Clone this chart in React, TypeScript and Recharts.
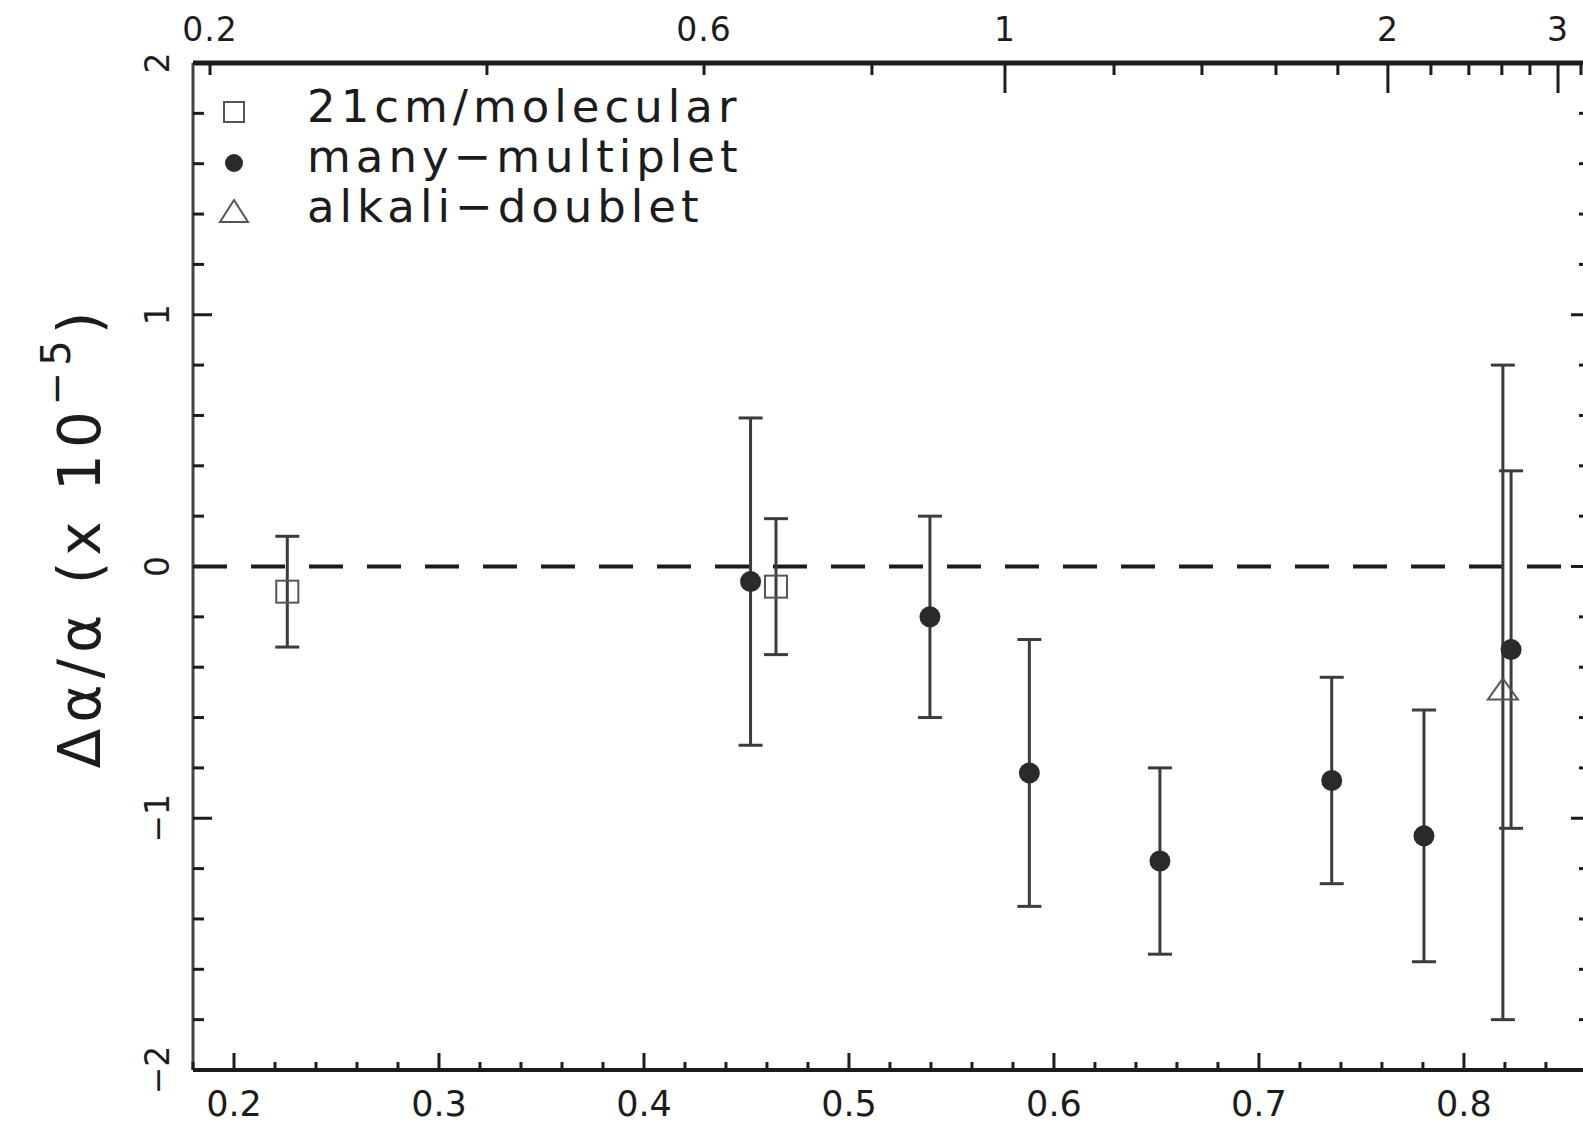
import { ScatterChart, Scatter, XAxis, YAxis, ErrorBar, ReferenceLine } from 'recharts';

const FONT = '"DejaVu Sans", Verdana, sans-serif';
const INK = '#1c1c1c';
const BAR = '#3c3c3c';

const X_MIN = 0.18;
const X_MAX = 0.8615;

// lookback-time fraction (bottom axis) and Δα/α in units of 1e-5
const molecularT = [0.226, 0.4644];
const molecularDa = [-0.1, -0.08];
const molecularErr = [0.22, 0.27];

const multipletT = [0.452, 0.5395, 0.588, 0.6517, 0.7355, 0.7805, 0.823];
const multipletDa = [-0.06, -0.2, -0.82, -1.17, -0.85, -1.07, -0.33];
const multipletErr = [0.65, 0.4, 0.53, 0.37, 0.41, 0.5, 0.71];

const doubletT = [0.819];
const doubletDa = [-0.5];
const doubletErr = [1.3];

const bottomLabels = [0.2, 0.3, 0.4, 0.5, 0.6, 0.7, 0.8];
const yLabels = [-2, -1, 0, 1, 2];

// redshift ticks of the top axis, placed at their lookback fraction
const zValues = [0.2, 0.4, 0.6, 0.8, 1, 1.2, 1.4, 1.6, 1.8, 2, 2.2, 2.4, 2.6, 2.8, 3, 3.2];
const zLookback = [
  0.1883, 0.3234, 0.4293, 0.5112, 0.5761, 0.6293, 0.6722, 0.7083,
  0.7385, 0.7629, 0.7839, 0.8024, 0.8185, 0.8322, 0.8459, 0.8571,
];
const zLabelled = ['0.2', '0.6', '1', '2', '3'];
const zMajor = [1, 2, 3];

const legendLabels = ['21cm/molecular', 'many−multiplet', 'alkali−doublet'];

const toPoints = (xs: number[], ys: number[], es: number[]) =>
  xs.map((x, i) => ({ x, y: ys[i], err: es[i] }));

const molecular = toPoints(molecularT, molecularDa, molecularErr);
const multiplet = toPoints(multipletT, multipletDa, multipletErr);
const doublet = toPoints(doubletT, doubletDa, doubletErr);
// anchors the redshift axis so it gets a scale of its own
const redshiftAnchor = zLookback.map((x) => ({ x, y: 0 }));

const bottomTicks = Array.from({ length: 35 }, (_, i) => +(0.18 + i * 0.02).toFixed(2));
const yTicks = Array.from({ length: 21 }, (_, i) => +(-2 + i * 0.2).toFixed(1));

const near = (a: number, b: number) => Math.abs(a - b) < 1e-6;

function BottomTick(props: any) {
  const { x, y, payload } = props;
  const v = payload.value as number;
  const major = bottomLabels.some((l) => near(l, v));
  return (
    <g>
      <line x1={x} y1={y} x2={x} y2={y - (major ? 17 : 8)} stroke={INK} strokeWidth={3} />
      {major && (
        <text x={x} y={y + 46} textAnchor="middle" fontSize={35} fontFamily={FONT} fill={INK}>
          {v.toFixed(1)}
        </text>
      )}
    </g>
  );
}

function TopTick(props: any) {
  const { x, y, payload } = props;
  const i = zLookback.findIndex((p) => Math.abs(p - payload.value) < 1e-4);
  const z = zValues[i];
  const label = zLabelled.find((l) => near(parseFloat(l), z));
  const major = zMajor.includes(z);
  return (
    <g>
      <line x1={x} y1={y} x2={x} y2={y + (major ? 30 : 12)} stroke={INK} strokeWidth={3} />
      {label && (
        <text x={x} y={y - 22} textAnchor="middle" fontSize={33} letterSpacing={1} fontFamily={FONT} fill={INK}>
          {label}
        </text>
      )}
    </g>
  );
}

function LeftTick(props: any) {
  const { x, y, payload } = props;
  const v = payload.value as number;
  const major = yLabels.some((l) => near(l, v));
  const text = v < 0 ? `−${Math.abs(v)}` : `${v}`;
  return (
    <g>
      <line x1={x} y1={y} x2={x + (major ? 19 : 11)} y2={y} stroke={INK} strokeWidth={3} />
      {major && (
        <text
          transform={`translate(${x - 36},${y}) rotate(-90)`}
          textAnchor="middle"
          dy="0.36em"
          fontSize={33}
          fontFamily={FONT}
          fill={INK}
        >
          {text}
        </text>
      )}
    </g>
  );
}

function RightTick(props: any) {
  const { x, y, payload } = props;
  const major = yLabels.some((l) => near(l, payload.value));
  return <line x1={x} y1={y} x2={x - (major ? 19 : 11)} y2={y} stroke={INK} strokeWidth={3} />;
}

const SquareMark = (p: any) => (
  <rect x={p.cx - 11} y={p.cy - 11} width={22} height={22} fill="none" stroke="#555" strokeWidth={2} />
);
const DotMark = (p: any) => <circle cx={p.cx} cy={p.cy} r={10.5} fill="#2a2a2a" />;
const TriangleMark = (p: any) => (
  <polygon
    points={`${p.cx},${p.cy - 14} ${p.cx - 15},${p.cy + 7} ${p.cx + 15},${p.cy + 7}`}
    fill="none"
    stroke="#555"
    strokeWidth={2}
  />
);
const NoMark = () => <g />;

function Overlay() {
  const rows = [122, 172, 222];
  return (
    <svg
      width={1583}
      height={1126}
      style={{ position: 'absolute', left: 0, top: 0, pointerEvents: 'none' }}
    >
      <rect x={224} y={102} width={20} height={20} fill="none" stroke="#555" strokeWidth={2} />
      <circle cx={234} cy={163} r={9} fill="#2a2a2a" />
      <polygon points="234,200 220,222 248,222" fill="none" stroke="#555" strokeWidth={2} />
      {legendLabels.map((label, i) => (
        <text key={label} x={307} y={rows[i]} fontSize={45} letterSpacing={5} fontFamily={FONT} fill={INK}>
          {label}
        </text>
      ))}
      <text
        transform="translate(100,537) rotate(-90)"
        textAnchor="middle"
        fontSize={58}
        letterSpacing={6}
        fontFamily={FONT}
        fill={INK}
      >
        Δα/α (x 10
        <tspan dy={-30} fontSize={40}>−5</tspan>
        <tspan dy={30}>)</tspan>
      </text>
    </svg>
  );
}

export default function App() {
  return (
    <div
      style={{
        position: 'fixed',
        left: 0,
        top: 0,
        width: 1583,
        height: 1126,
        overflow: 'hidden',
        background: '#fff',
      }}
    >
      <ScatterChart width={1600} height={1126} margin={{ top: 23, right: 5, bottom: 16, left: 133 }}>
        <XAxis
          dataKey="x"
          type="number"
          domain={[X_MIN, X_MAX]}
          ticks={bottomTicks}
          interval={0}
          height={40}
          tickLine={false}
          tickSize={0}
          tickMargin={0}
          tick={BottomTick}
          axisLine={{ stroke: INK, strokeWidth: 4 }}
          allowDataOverflow
        />
        <XAxis
          xAxisId="top"
          dataKey="x"
          orientation="top"
          type="number"
          domain={[X_MIN, X_MAX]}
          ticks={zLookback}
          interval={0}
          height={40}
          tickLine={false}
          tickSize={0}
          tickMargin={0}
          tick={TopTick}
          axisLine={{ stroke: INK, strokeWidth: 5 }}
          allowDataOverflow
        />
        <YAxis
          dataKey="y"
          type="number"
          domain={[-2, 2]}
          ticks={yTicks}
          interval={0}
          width={60}
          tickLine={false}
          tickSize={0}
          tickMargin={0}
          tick={LeftTick}
          axisLine={{ stroke: '#444', strokeWidth: 3 }}
          allowDataOverflow
        />
        <YAxis
          yAxisId="right"
          orientation="right"
          type="number"
          domain={[-2, 2]}
          ticks={yTicks}
          interval={0}
          width={5}
          tickLine={false}
          tickSize={0}
          tickMargin={0}
          tick={RightTick}
          axisLine={{ stroke: '#444', strokeWidth: 3 }}
          allowDataOverflow
        />
        <ReferenceLine y={0} stroke={INK} strokeWidth={4} strokeDasharray="34 24" />
        <Scatter
          xAxisId="top"
          data={redshiftAnchor}
          shape={NoMark}
          legendType="none"
          isAnimationActive={false}
        />
        <Scatter name="21cm/molecular" data={molecular} shape={SquareMark} isAnimationActive={false}>
          <ErrorBar dataKey="err" direction="y" width={12} stroke={BAR} strokeWidth={3} isAnimationActive={false} />
        </Scatter>
        <Scatter name="alkali-doublet" data={doublet} shape={TriangleMark} isAnimationActive={false}>
          <ErrorBar dataKey="err" direction="y" width={12} stroke={BAR} strokeWidth={3} isAnimationActive={false} />
        </Scatter>
        <Scatter name="many-multiplet" data={multiplet} shape={DotMark} isAnimationActive={false}>
          <ErrorBar dataKey="err" direction="y" width={12} stroke={BAR} strokeWidth={3} isAnimationActive={false} />
        </Scatter>
      </ScatterChart>
      <Overlay />
    </div>
  );
}
